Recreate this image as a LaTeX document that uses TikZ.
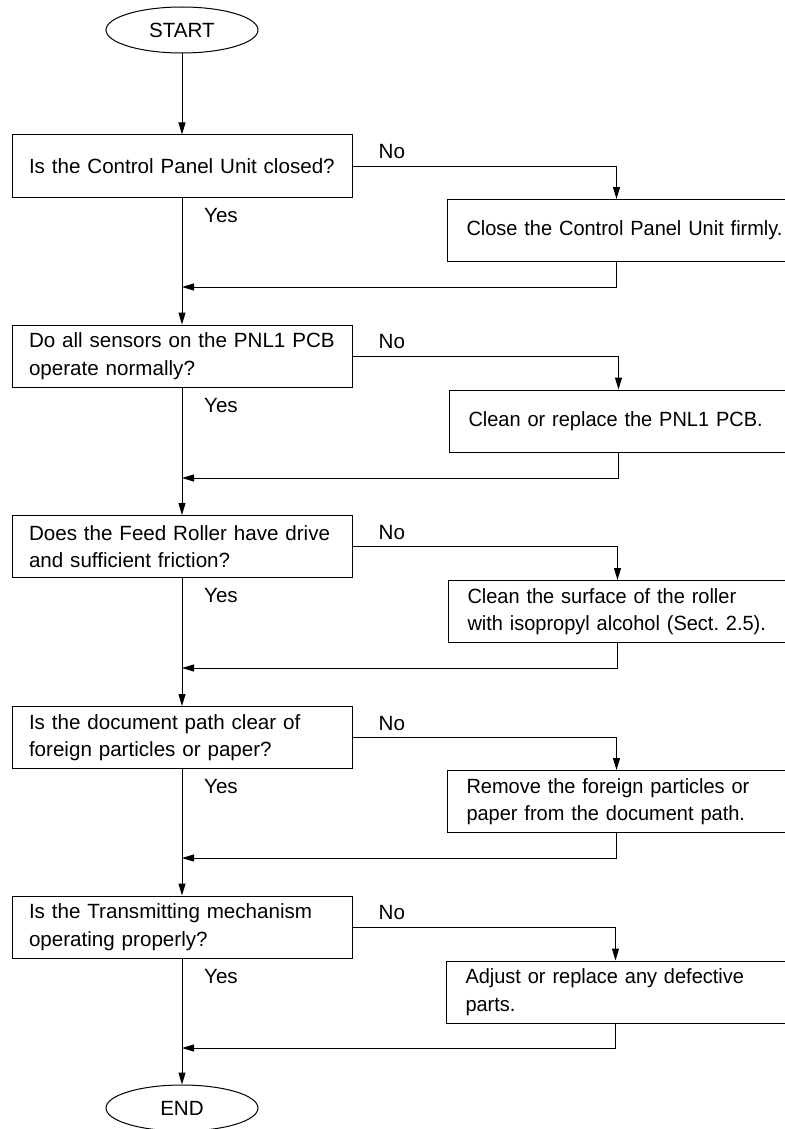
\documentclass[tikz,border=0pt]{standalone}
\usepackage{fontspec}
\setmainfont[WordSpace=0.82]{Liberation Sans}
\newfontfamily\narrowfont[FakeStretch=0.97,WordSpace=0.82]{Liberation Sans}
\frenchspacing
\usetikzlibrary{arrows.meta,shapes.geometric}
\tikzset{
  term/.style={draw, ellipse, minimum width=76pt, minimum height=23pt, inner sep=0pt},
  qbox/.style={draw, rectangle, text width=153pt, align=left, inner xsep=8.5pt, minimum height=31pt},
  rbox/.style={draw, rectangle, text width=180pt, align=left, inner xsep=9.75pt, minimum height=31pt, anchor=west,
    font=\fontsize{10.3}{13.8}\narrowfont},
  arr/.style={-{Triangle[length=6pt,width=3.5pt]}},
}
\begin{document}
\begin{tikzpicture}[x=0.5pt, y=-0.5pt, font=\fontsize{10.3}{13.8}\selectfont, line width=0.5pt]
\useasboundingbox (0,0) rectangle (785,1129);
\clip (0,0) rectangle (785,1129);
\node[term] (start) at (182,30) {START};
\foreach \i/\qy/\ry/\rx/\my/\q/\r in {
  1/166/230.5/446.5/287/{Is the Control Panel Unit closed?}/{Close the Control Panel Unit firmly.},
  2/356/421/448.5/478/{Do all sensors on the PNL1 PCB\\operate normally?}/{Clean or replace the PNL1 PCB.},
  3/546.5/611.5/447.5/668/{Does the Feed Roller have drive\\and sufficient friction?}/{Clean the surface of the roller\\with isopropyl alcohol (Sect. 2.5).},
  4/737.5/801.5/446.5/858/{Is the document path clear of\\foreign particles or paper?}/{Remove the foreign particles or\\paper from the document path.},
  5/927/992/445.5/1048/{Is the Transmitting mechanism\\operating properly?}/{Adjust or replace any defective\\parts.}}{
  \node[qbox] (q\i) at (182,\qy) {\q};
  \node[rbox] (r\i) at (\rx,\ry) {\r};
  \node[anchor=west] (no\i) at ([xshift=9.5pt,yshift=7pt]q\i.east) {No};
  \node[anchor=west] (yes\i) at ([xshift=7.5pt,yshift=-9pt]q\i.south) {Yes};
  \coordinate (m\i) at (182,\my);
  \draw[arr] (q\i.east) -| ([xshift=85pt]r\i.north west);
  \draw[arr] ([xshift=85pt]r\i.south west) |- (m\i);
}
\node[term] (stop) at (182,1108) {END};
\foreach \a/\b in {start/q1,q1/q2,q2/q3,q3/q4,q4/q5,q5/stop}
  \draw[arr] (\a) -- (\b);
\end{tikzpicture}
\end{document}
